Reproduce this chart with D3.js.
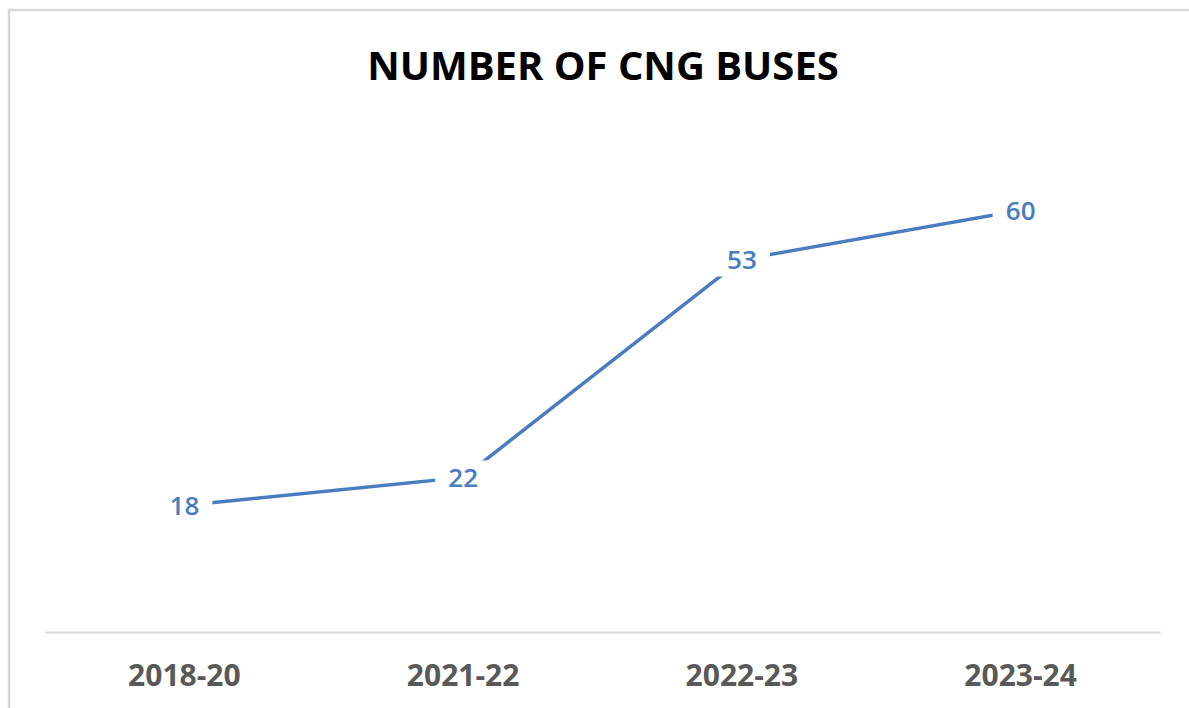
<!DOCTYPE html>
<html>
	<head>
		<meta charset="utf-8"/>
		<title>Number of CNG buses</title>
		<script src="https://d3js.org/d3.v7.min.js"></script>
	</head>
	<style>
	body{
		margin:0;
		background:#fff;
	}
	</style>
	<body>
	<div id='well'></div>
	<script>
		var years = ['2018-20', '2021-22', '2022-23', '2023-24'];
		var buses = [18, 22, 53, 60];
		var title = 'NUMBER OF CNG BUSES';

		var width = 1189;
		var height = 708;
		var font = "'Open Sans', 'Noto Sans', sans-serif";

		var svg = d3.select('#well')
			.append('svg')
			.attr('width', width)
			.attr('height', height);

		// chart frame, runs off the right and bottom of the picture
		svg.append('rect')
			.attr('x', 9)
			.attr('y', 10)
			.attr('width', width + 20)
			.attr('height', height + 20)
			.attr('fill', 'none')
			.attr('stroke', '#d9d9d9')
			.attr('stroke-width', 2.5);

		svg.append('text')
			.attr('x', 603)
			.attr('y', 80)
			.attr('text-anchor', 'middle')
			.style('font-family', font)
			.style('font-weight', 'bold')
			.style('font-size', '40px')
			.attr('fill', '#000')
			.text(title);

		var x = d3.scaleBand()
			.domain(years)
			.range([45, 1160]);

		var y = d3.scaleLinear()
			.domain([0, 70])
			.range([632, 140]);

		var xAxis = d3.axisBottom(x)
			.tickSize(0)
			.tickPadding(33);

		var gx = svg.append('g')
			.attr('transform', 'translate(0,' + y(0) + ')')
			.call(xAxis);
		gx.select('.domain')
			.attr('stroke', '#d9d9d9')
			.attr('stroke-width', 2);
		gx.selectAll('text')
			.style('font-family', font)
			.style('font-weight', 'bold')
			.style('font-size', '30px')
			.attr('fill', '#595959');

		var line = d3.line()
			.x(function(d, i){ return x(years[i]) + x.bandwidth() / 2; })
			.y(function(d){ return y(d); });

		svg.append('path')
			.datum(buses)
			.attr('d', line)
			.attr('fill', 'none')
			.attr('stroke', '#4a7cc0')
			.attr('stroke-width', 3.5);

		var labels = svg.append('g')
			.selectAll('g')
			.data(buses)
			.enter()
			.append('g')
			.attr('transform', function(d, i){
				return 'translate(' + (x(years[i]) + x.bandwidth() / 2) + ',' + y(d) + ')';
			});

		labels.append('rect')
			.attr('x', -28)
			.attr('y', -17)
			.attr('width', 56)
			.attr('height', 34)
			.attr('fill', '#fff');

		labels.append('text')
			.attr('text-anchor', 'middle')
			.attr('dy', '0.36em')
			.style('font-family', font)
			.style('font-weight', 600)
			.style('font-size', '26px')
			.attr('fill', '#4a7cc0')
			.text(function(d){ return d; });
	</script>
	</body>
</html>
